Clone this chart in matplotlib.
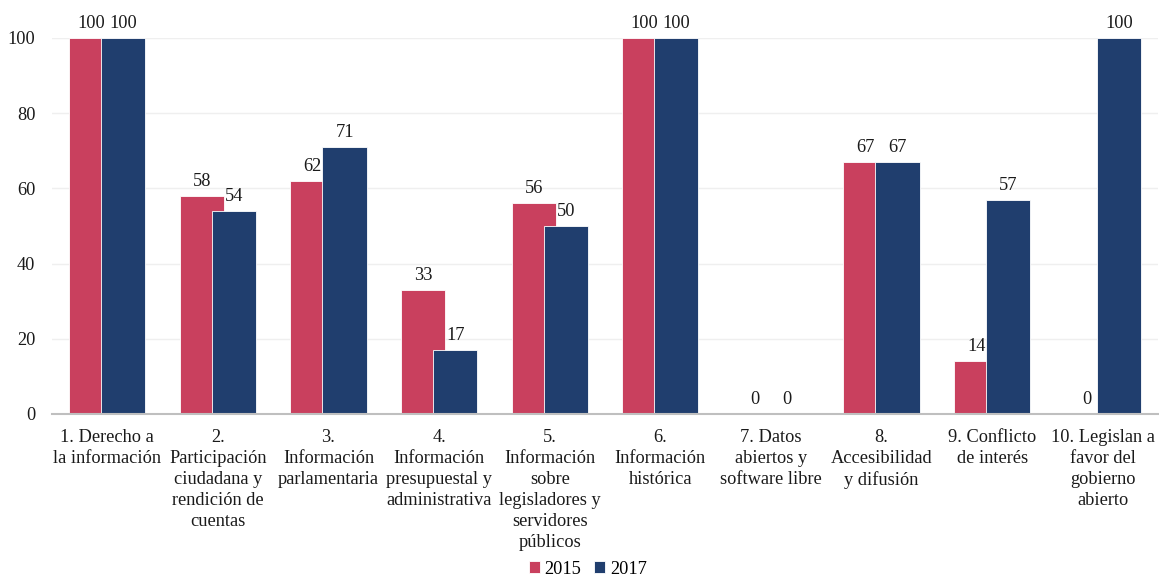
import matplotlib
matplotlib.use("Agg")
import matplotlib.pyplot as plt
import numpy as np

plt.rcParams["font.family"] = ["Liberation Serif", "DejaVu Serif"]

categories = [
    "1. Derecho a\nla información",
    "2.\nParticipación\nciudadana y\nrendición de\ncuentas",
    "3.\nInformación\nparlamentaria",
    "4.\nInformación\npresupuestal y\nadministrativa",
    "5.\nInformación\nsobre\nlegisladores y\nservidores\npúblicos",
    "6.\nInformación\nhistórica",
    "7. Datos\nabiertos y\nsoftware libre",
    "8.\nAccesibilidad\ny difusión",
    "9. Conflicto\nde interés",
    "10. Legislan a\nfavor del\ngobierno\nabierto",
]
values_2015 = [100, 58, 62, 33, 56, 100, 0, 67, 14, 0]
values_2017 = [100, 54, 71, 17, 50, 100, 0, 67, 57, 100]
series_names = ["2015", "2017"]
yticks = [0, 20, 40, 60, 80, 100]

color_2015 = "#C9405E"
color_2017 = "#203E6E"
text_color = "#1A1A1A"
fs = 13.2

W, H = 1159, 579
fig = plt.figure(figsize=(W / 100, H / 100), dpi=100)
ax = fig.add_axes([52 / W, 1 - 414 / H, (1158 - 52) / W, (414 - 38) / H])

x = np.arange(len(categories))
bw = 0.40
off = 0.145
b1 = ax.bar(x - off, values_2015, width=bw, color=color_2015, edgecolor="white",
            linewidth=0.6, label=series_names[0], zorder=2)
b2 = ax.bar(x + off, values_2017, width=bw, color=color_2017, edgecolor="white",
            linewidth=0.6, label=series_names[1], zorder=3)

for bars, vals in ((b1, values_2015), (b2, values_2017)):
    for rect, v in zip(bars, vals):
        ax.text(rect.get_x() + rect.get_width() / 2, v + 1.6, f"{v:g}",
                ha="center", va="bottom", fontsize=fs, color=text_color,
                clip_on=False, zorder=4)

ax.set_xlim(-0.5, len(categories) - 0.5)
ax.set_ylim(0, 100)
ax.set_yticks(yticks)
ax.set_yticklabels([str(t) for t in yticks], fontsize=fs, color=text_color)
ax.set_xticks(x)
ax.set_xticklabels(categories, fontsize=fs, color=text_color, linespacing=1.3,
                   va="top")
ax.tick_params(axis="both", length=0)
ax.tick_params(axis="y", pad=12)
ax.tick_params(axis="x", pad=11)

ax.grid(axis="y", color="#EFEFEF", linewidth=1.0, zorder=0)
ax.set_axisbelow(True)
for s in ("top", "right", "left"):
    ax.spines[s].set_visible(False)
ax.spines["bottom"].set_color("#BFBFBF")
ax.spines["bottom"].set_linewidth(1.5)
ax.spines["bottom"].set_zorder(5)

fig.legend(handles=[b1, b2], labels=series_names, loc="center",
           bbox_to_anchor=(588 / W, 1 - 569 / H), ncol=2, frameon=False,
           fontsize=fs, handlelength=0.6, handleheight=0.6,
           handletextpad=0.25, columnspacing=0.7, borderpad=0.2)

fig.savefig("out.png", dpi=100)
